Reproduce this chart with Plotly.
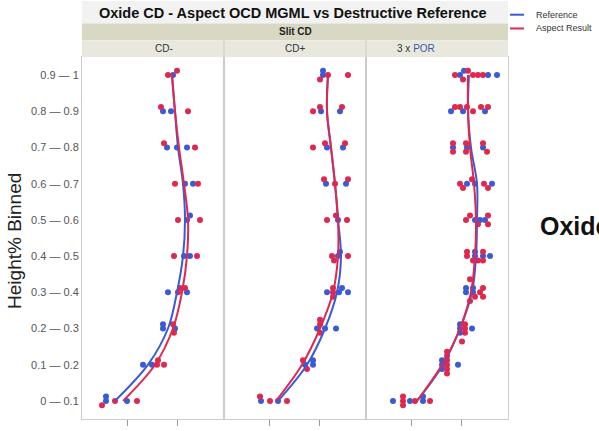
import plotly.graph_objects as go
from plotly.subplots import make_subplots

# ---------------- data ----------------
row_labels = ["0 — 0.1", "0.1 — 0.2", "0.2 — 0.3", "0.3 — 0.4", "0.4 — 0.5",
              "0.5 — 0.6", "0.6 — 0.7", "0.7 — 0.8", "0.8 — 0.9", "0.9 — 1"]
panel_names = ["CD-", "CD+", "3 x <span style='color:#3a5aa8'>POR</span>"]

# CD- panel
ref_cdm = [[15.8, 15.8, 20.0], [23.2, 25.0], [27.2, 27.2, 29.6], [28.2, 32.0],
           [31.4, 32.6], [32.0, 32.6], [31.6, 33.2], [28.0, 30.0, 32.0],
           [27.2, 28.8], [29.2]]
asp_cdm = [[15.0, 17.6, 22.0], [26.0, 26.2, 27.4], [29.2, 29.4], [30.2, 30.6, 31.6],
           [29.4, 34.0], [30.2, 34.6], [29.6, 34.2], [27.4, 33.6],
           [26.8, 32.2], [28.2, 30.0]]
ref_cdm_fit = [17.6, 24.2, 28.2, 30.0, 31.2, 31.6, 31.2, 30.2, 29.6, 29.0]
asp_cdm_fit = [19.2, 25.6, 29.2, 31.0, 32.0, 32.2, 31.4, 30.4, 29.6, 29.0]

# CD+ panel
ref_cdp = [[18.4, 21.8], [27.2, 28.8, 28.8], [29.6, 31.2, 33.4], [31.6, 34.0, 34.6, 35.8],
           [33.8, 34.2], [33.8], [31.4, 35.4], [31.6, 34.8], [30.4, 34.2], [30.8, 30.8]]
asp_cdp = [[18.2, 20.2, 23.6], [26.8, 27.6], [30.2, 30.2, 30.2], [32.8, 32.8, 32.8],
           [32.6, 33.0, 35.8], [31.6, 33.4, 35.6], [31.0, 33.2, 35.8], [28.8, 31.2, 35.2],
           [28.8, 30.2, 34.6], [30.2, 31.8, 35.8]]
ref_cdp_fit = [21.8, 27.6, 31.2, 33.6, 34.4, 33.8, 33.2, 32.4, 31.6, 31.8]
asp_cdp_fit = [21.4, 26.6, 30.2, 32.8, 33.8, 33.8, 33.2, 32.4, 31.6, 31.8]

# 3 x POR panel
ref_por = [[16.4, 19.8, 22.4, 22.4], [26.2, 26.2, 26.2, 29.4], [29.8, 29.8, 29.8, 32.2],
           [31.0, 32.4, 31.0, 32.4], [32.8, 32.8, 34.4, 35.8], [32.8, 34.8, 33.8],
           [31.2, 32.8, 36.2], [28.4, 31.2, 34.4], [28.0, 30.4, 34.8],
           [29.8, 30.6, 35.4, 37.2]]
asp_por = [[18.4, 18.4, 18.4, 20.8, 23.8], [27.2, 27.2, 27.2, 27.2, 27.2, 27.2],
           [30.8, 30.8, 30.8, 30.2], [31.8, 32.8, 33.8, 34.4, 31.8, 34.4],
           [31.2, 31.2, 32.4, 33.4, 34.4, 34.4], [31.0, 31.8, 33.4, 35.4, 35.4],
           [29.8, 30.4, 32.2, 34.6, 35.4], [28.4, 28.4, 31.0, 31.0, 34.4, 35.2],
           [28.8, 29.8, 31.2, 32.4, 34.0, 35.4], [28.8, 30.4, 31.4, 32.4, 33.4, 34.4]]
ref_por_fit = [21.2, 26.4, 29.8, 32.2, 33.0, 33.2, 33.2, 32.0, 31.4, 31.6]
asp_por_fit = [21.2, 26.2, 29.8, 32.0, 32.8, 33.0, 32.6, 31.8, 31.4, 31.4]

x_ticks = [20, 30]

# ---------------- style ----------------
BLUE = "#3a5bd6"
RED = "#e0284f"
FONT = "Liberation Sans, Arial, sans-serif"

panels = [(ref_cdm, asp_cdm, ref_cdm_fit, asp_cdm_fit),
          (ref_cdp, asp_cdp, ref_cdp_fit, asp_cdp_fit),
          (ref_por, asp_por, ref_por_fit, asp_por_fit)]


def stack_points(ref_rows, asp_rows):
    """Beeswarm-like vertical stacking of overlapping dots in each row."""
    offs = [0, 0.12, -0.12, 0.24, -0.24, 0.36, -0.36, 0.48]
    out = {"ref": ([], []), "asp": ([], [])}
    for r in range(len(ref_rows)):
        placed = []
        for key, rows in (("ref", ref_rows), ("asp", asp_rows)):
            for v in rows[r]:
                k = sum(1 for p in placed if abs(p - v) < 0.9)
                placed.append(v)
                out[key][0].append(v)
                out[key][1].append(r + offs[min(k, len(offs) - 1)])
    return out


fig = make_subplots(rows=1, cols=3, shared_yaxes=True, horizontal_spacing=0)
rows_idx = list(range(len(row_labels)))

for c, (ref_rows, asp_rows, ref_fit, asp_fit) in enumerate(panels, start=1):
    pts = stack_points(ref_rows, asp_rows)
    fig.add_trace(go.Scatter(x=pts["ref"][0], y=pts["ref"][1], mode="markers",
                             marker=dict(color=BLUE, size=6), showlegend=False,
                             name="Reference"), row=1, col=c)
    fig.add_trace(go.Scatter(x=pts["asp"][0], y=pts["asp"][1], mode="markers",
                             marker=dict(color=RED, size=6), showlegend=False,
                             name="Aspect Result"), row=1, col=c)
    fig.add_trace(go.Scatter(x=ref_fit, y=rows_idx, mode="lines",
                             line=dict(color=BLUE, width=2, shape="spline", smoothing=1.0),
                             showlegend=False, name="Reference"), row=1, col=c)
    fig.add_trace(go.Scatter(x=asp_fit, y=rows_idx, mode="lines",
                             line=dict(color=RED, width=2, shape="spline", smoothing=1.0),
                             showlegend=False, name="Aspect Result"), row=1, col=c)
    fig.update_xaxes(range=[11, 39.4], tickvals=x_ticks, ticks="outside", ticklen=6,
                     tickcolor="#9a9a9a", showticklabels=False, showline=True,
                     linecolor="#cccccc", mirror=True, showgrid=False, zeroline=False,
                     row=1, col=c)

fig.update_yaxes(range=[-0.5, 9.5], tickvals=rows_idx, ticktext=row_labels,
                 showline=True, linecolor="#cccccc", mirror=True, showgrid=False,
                 zeroline=False, ticks="", tickfont=dict(size=11, color="#555555", family=FONT))
fig.update_yaxes(showticklabels=True, row=1, col=1)

L, R, T, B = 82, 508, 57, 425
W, H = 599, 431


def px_x(p):
    return (p - L) / (R - L)


def px_y(p):
    return (B - p) / (B - T)


shapes = []
annotations = []
# header bands
shapes.append(dict(type="rect", xref="paper", yref="paper", x0=px_x(82), x1=px_x(508),
                   y0=px_y(23), y1=px_y(0), fillcolor="#f2f2f2", line=dict(width=0), layer="below"))
shapes.append(dict(type="rect", xref="paper", yref="paper", x0=px_x(82), x1=px_x(508),
                   y0=px_y(40), y1=px_y(23), fillcolor="#d8d8c4", line=dict(width=0)))
shapes.append(dict(type="rect", xref="paper", yref="paper", x0=px_x(82), x1=px_x(508),
                   y0=px_y(T), y1=px_y(40), fillcolor="#e8e8de", line=dict(width=0)))
for xb in (224, 366):
    shapes.append(dict(type="line", xref="paper", yref="paper", x0=px_x(xb), x1=px_x(xb),
                       y0=px_y(T), y1=px_y(40), line=dict(color="#cdcdc2", width=1)))

annotations.append(dict(text="<b>Oxide CD - Aspect OCD MGML vs Destructive Reference</b>",
                        xref="paper", yref="paper", x=px_x(293), y=px_y(12), showarrow=False,
                        font=dict(size=14.5, color="#111111", family=FONT), yanchor="middle"))
annotations.append(dict(text="<b>Slit CD</b>", xref="paper", yref="paper", x=0.5, y=px_y(31),
                        showarrow=False, font=dict(size=10, color="#222222", family=FONT),
                        yanchor="middle"))
for i, name in enumerate(panel_names):
    annotations.append(dict(text=name, xref="paper", yref="paper", x=(i + 0.5) / 3,
                            y=px_y(48.5), showarrow=False, yanchor="middle",
                            font=dict(size=10, color="#333333", family=FONT)))

# y-axis title
annotations.append(dict(text="Height% Binned", xref="paper", yref="paper", x=px_x(15),
                        y=px_y(244), textangle=-90, showarrow=False, xanchor="center",
                        yanchor="middle", font=dict(size=19, color="#222222", family=FONT)))

# legend (manual)
for yy, col, lab in ((14, BLUE, "Reference"), (28, RED, "Aspect Result")):
    shapes.append(dict(type="line", xref="paper", yref="paper", x0=px_x(510), x1=px_x(524),
                       y0=px_y(yy), y1=px_y(yy), line=dict(color=col, width=2)))
    annotations.append(dict(text=lab, xref="paper", yref="paper", x=px_x(534), y=px_y(yy),
                            xanchor="left", yanchor="middle", showarrow=False,
                            font=dict(size=9, color="#333333", family=FONT)))

# side label, cropped by the window edge as in the reference
annotations.append(dict(text="<b>Oxide CD</b>", xref="paper", yref="paper", x=px_x(538),
                        y=px_y(229), xanchor="left", yanchor="middle", showarrow=False,
                        font=dict(size=25, color="#111111", family=FONT)))

fig.update_layout(width=W, height=H, margin=dict(l=L, r=W - R, t=T, b=H - B),
                  paper_bgcolor="white", plot_bgcolor="white", showlegend=False,
                  shapes=shapes, annotations=annotations, font=dict(family=FONT))

fig.write_html("out.html")
